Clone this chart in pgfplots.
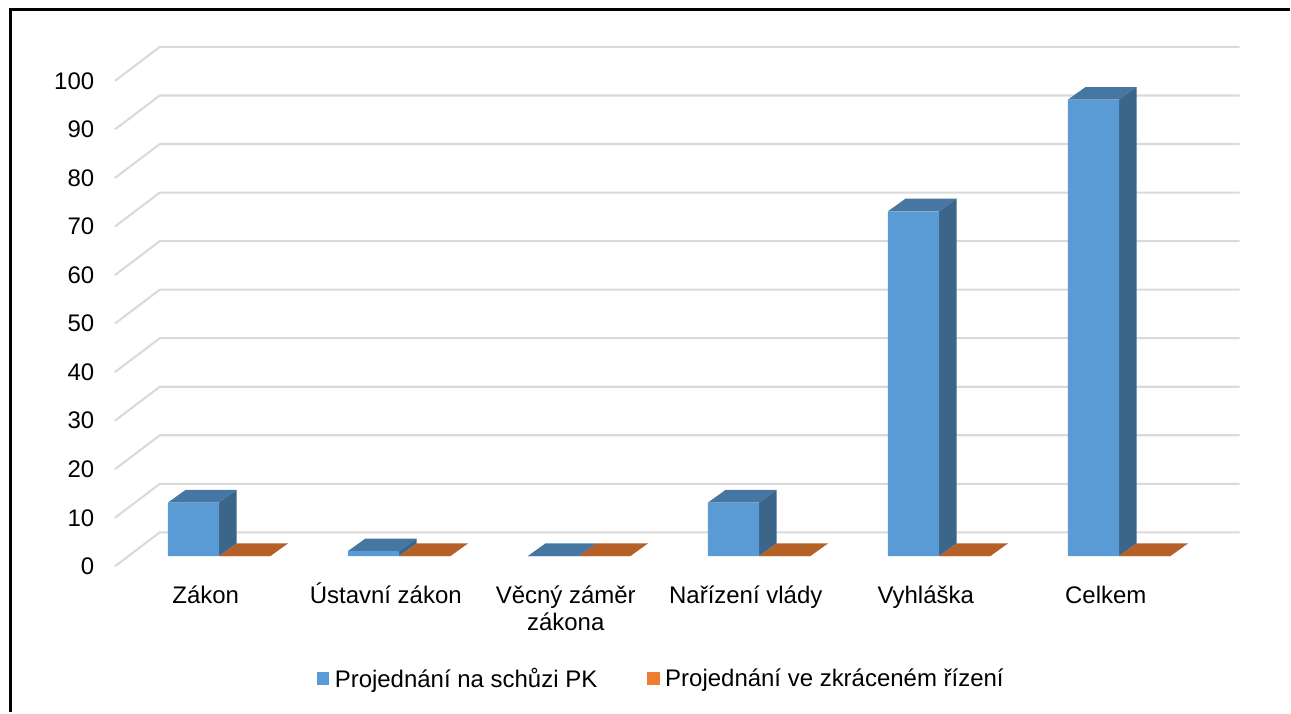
\documentclass[border=0pt]{standalone}
\usepackage{pgfplots}
\pgfplotsset{compat=1.18}
\usepackage{fontspec}
\setmainfont{Liberation Sans}

\definecolor{blueF}{HTML}{5B9BD5}
\definecolor{blueT}{HTML}{4676A2}
\definecolor{blueS}{HTML}{3B6589}
\definecolor{orangeF}{HTML}{ED7D31}
\definecolor{orangeT}{HTML}{B56026}
\definecolor{gridc}{HTML}{DADADA}

\pgfplotsset{legsq/.style={legend image code/.code={\path (0bp,0bp) -- (16bp,0bp); \fill[##1] (0bp,-6.5bp) rectangle (12.5bp,6bp);}}}

% 3D look: one category = 180.2 px, one unit of y = 4.86 px
\newcommand{\barwd}{0.2847}
\newcommand{\depx}{0.0982}
\newcommand{\depy}{2.613}

% top and side face of a bar: #1 category, #2 value, #3 left offset, #4 top colour, #5 side colour
\newcommand{\barfaces}[5]{%
  \pgfmathsetmacro\xa{#1+#3}%
  \pgfmathsetmacro\xb{#1+#3+\barwd}%
  \pgfmathsetmacro\xc{\xa+\depx}%
  \pgfmathsetmacro\xd{\xb+\depx}%
  \pgfmathsetmacro\yt{#2+\depy}%
  \pgfmathsetmacro\yz{\depy}%
  \addplot[forget plot, fill=#4, draw=none] coordinates {(\xa,#2) (\xb,#2) (\xd,\yt) (\xc,\yt) (\xa,#2)};
  \addplot[forget plot, fill=#5, draw=none] coordinates {(\xb,0) (\xb,#2) (\xd,\yt) (\xd,\yz) (\xb,0)};
}

\begin{document}
\begin{tikzpicture}
\begin{axis}[
    scale only axis,
    width=1291bp, height=713bp,
    xmin=-1.2170, xmax=5.9473,
    ymin=-32.16, ymax=114.55,
    axis line style={draw=none},
    tick style={draw=none},
    xtick={0,1,2,3,4,5},
    xticklabels={Zákon,Ústavní zákon,{\rule{0pt}{23bp}Věcný záměr\\zákona},Nařízení vlády,Vyhláška,Celkem},
    ytick={0,10,...,100},
    /pgf/number format/assume math mode=true,
    yticklabel style={font=\fontsize{24bp}{27bp}\selectfont, anchor=east, inner sep=0pt, xshift=94.5bp, yshift=-10.3bp},
    xticklabel style={font=\fontsize{24bp}{27bp}\selectfont, align=center, anchor=north, inner sep=0pt,
        execute at begin node={\rule{0pt}{23bp}}, xshift=-13.3bp, yshift=132bp},
    legend style={at={(axis cs:2.4567,-25.16)}, anchor=center, draw=none, fill=none,
        font=\fontsize{24bp}{27bp}\selectfont, legend columns=2,
        /tikz/column 2/.style={column sep=48bp}},
]
% wall and floor lines
\pgfplotsinvokeforeach{0,10,...,100}{
  \pgfmathsetmacro\yf{#1-2.12}
  \pgfmathsetmacro\yb{#1+4.88}
  \addplot[forget plot, gridc, line width=2.1bp] coordinates {(-0.5788,\yf) (-0.3291,\yb) (5.6698,\yb)};
}
% Projednání na schůzi PK
\barfaces{0}{11}{-\barwd}{blueT}{blueS}
\barfaces{1}{1}{-\barwd}{blueT}{blueS}
\barfaces{2}{0}{-\barwd}{blueT}{blueS}
\barfaces{3}{11}{-\barwd}{blueT}{blueS}
\barfaces{4}{71}{-\barwd}{blueT}{blueS}
\barfaces{5}{94}{-\barwd}{blueT}{blueS}
% Projednání ve zkráceném řízení
\barfaces{0}{0}{0}{orangeT}{orangeT}
\barfaces{1}{0}{0}{orangeT}{orangeT}
\barfaces{2}{0}{0}{orangeT}{orangeT}
\barfaces{3}{0}{0}{orangeT}{orangeT}
\barfaces{4}{0}{0}{orangeT}{orangeT}
\barfaces{5}{0}{0}{orangeT}{orangeT}
% front faces
\addplot[ybar, bar width=51.3bp, bar shift=-25.65bp, fill=blueF, draw=none, legsq]
    coordinates {(0,11) (1,1) (2,0) (3,11) (4,71) (5,94)};
\addlegendentry{Projednání na schůzi PK}
\addplot[ybar, bar width=51.3bp, bar shift=25.65bp, fill=orangeF, draw=none, legsq]
    coordinates {(0,0) (1,0) (2,0) (3,0) (4,0) (5,0)};
\addlegendentry{Projednání ve zkráceném řízení}
\end{axis}
\draw[black, line width=3bp] (11bp,0bp) -- (11bp,703bp) -- (1291bp,703bp);
\end{tikzpicture}
\end{document}
